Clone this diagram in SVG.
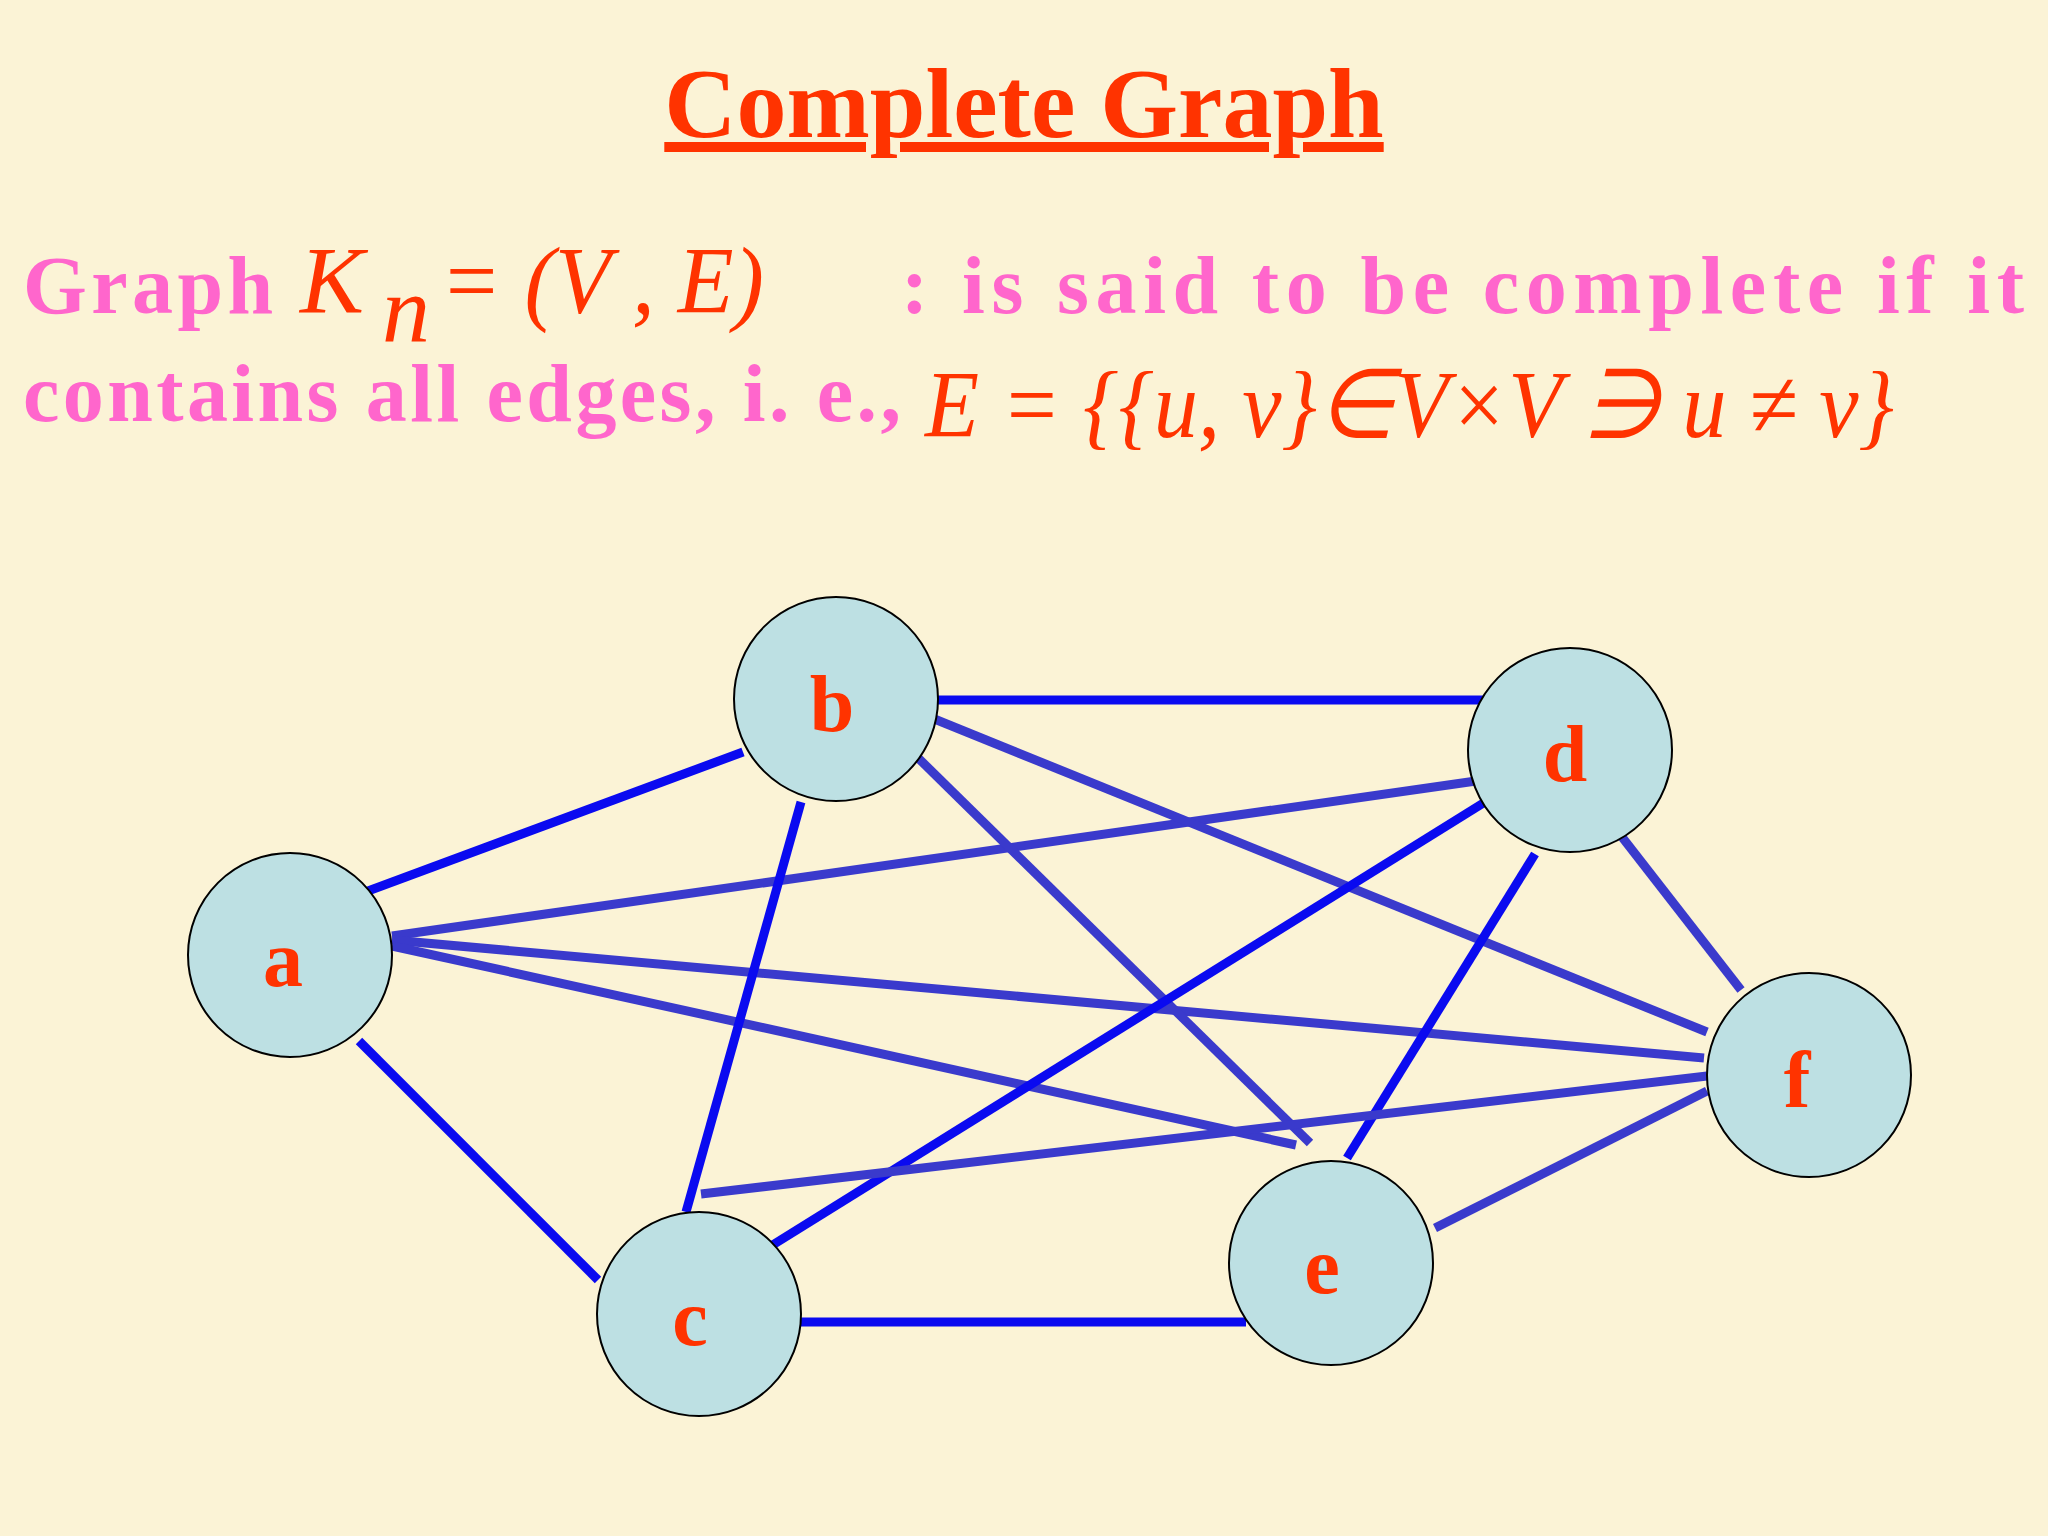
<svg xmlns="http://www.w3.org/2000/svg" width="2048" height="1536" viewBox="0 0 2048 1536">
<style>
.e1{stroke:#0a0af0;stroke-width:9}
.e2{stroke:#3a3acc;stroke-width:9}
.n{fill:#bde0e3;stroke:#000;stroke-width:2}
.l{font-family:"Liberation Serif",serif;font-weight:bold;font-size:80px;fill:#ff3300;text-anchor:middle}
.p{font-family:"Liberation Serif",serif;font-weight:bold;font-size:82px;fill:#ff66cc}
.m{font-family:"Liberation Serif",serif;font-style:italic;font-size:96px;fill:#ff3300}
</style>
<rect width="2048" height="1536" fill="#fbf3d6"/>
<text x="1024" y="137" text-anchor="middle" font-family="Liberation Serif,serif" font-weight="bold" font-size="100" fill="#ff3300" text-decoration="underline">Complete Graph</text>
<text class="p" x="23" y="313" textLength="250">Graph</text>
<text class="m" x="300" y="313">K</text>
<text class="m" x="382" y="342" font-size="50">n</text>
<text class="m" x="440" y="313" textLength="324" lengthAdjust="spacingAndGlyphs">= (V , E)</text>
<text class="p" x="901" y="313" textLength="1123">: is said to be complete if it</text>
<text class="p" x="23" y="421" textLength="878">contains all edges, i. e.,</text>
<text class="m" x="925" y="437" textLength="969" lengthAdjust="spacingAndGlyphs">E = {{u, v}∈V×V ∋ u ≠ v}</text>
<g id="edges">
<line class="e1" x1="368" y1="891" x2="743" y2="752"/>
<line class="e2" x1="392" y1="936" x2="1476" y2="781"/>
<line class="e2" x1="392" y1="940" x2="1704" y2="1058"/>
<line class="e2" x1="392" y1="946" x2="1296" y2="1145"/>
<line class="e1" x1="359" y1="1041" x2="598" y2="1280"/>
<line class="e1" x1="938" y1="700" x2="1485" y2="700"/>
<line class="e2" x1="927" y1="716" x2="1707" y2="1032"/>
<line class="e2" x1="910" y1="750" x2="1310" y2="1143"/>
<line class="e1" x1="801" y1="802" x2="686" y2="1212"/>
<line class="e1" x1="1485" y1="802" x2="771" y2="1246"/>
<line class="e1" x1="1535" y1="854" x2="1347" y2="1158"/>
<line class="e2" x1="1622" y1="837" x2="1741" y2="990"/>
<line class="e2" x1="701" y1="1194" x2="1707" y2="1076"/>
<line class="e2" x1="1435" y1="1228" x2="1707" y2="1091"/>
<line class="e1" x1="801" y1="1322" x2="1246" y2="1322"/>
</g>
<g id="a"><circle class="n" cx="290" cy="955" r="102"/><text class="l" x="283" y="986">a</text></g>
<g id="b"><circle class="n" cx="836" cy="699" r="102"/><text class="l" x="832" y="731">b</text></g>
<g id="d"><circle class="n" cx="1570" cy="750" r="102"/><text class="l" x="1565" y="781">d</text></g>
<g id="f"><circle class="n" cx="1809" cy="1075" r="102"/><text class="l" x="1797" y="1107">f</text></g>
<g id="c"><circle class="n" cx="699" cy="1314" r="102"/><text class="l" x="690" y="1345">c</text></g>
<g id="e"><circle class="n" cx="1331" cy="1263" r="102"/><text class="l" x="1322" y="1293">e</text></g>
</svg>
